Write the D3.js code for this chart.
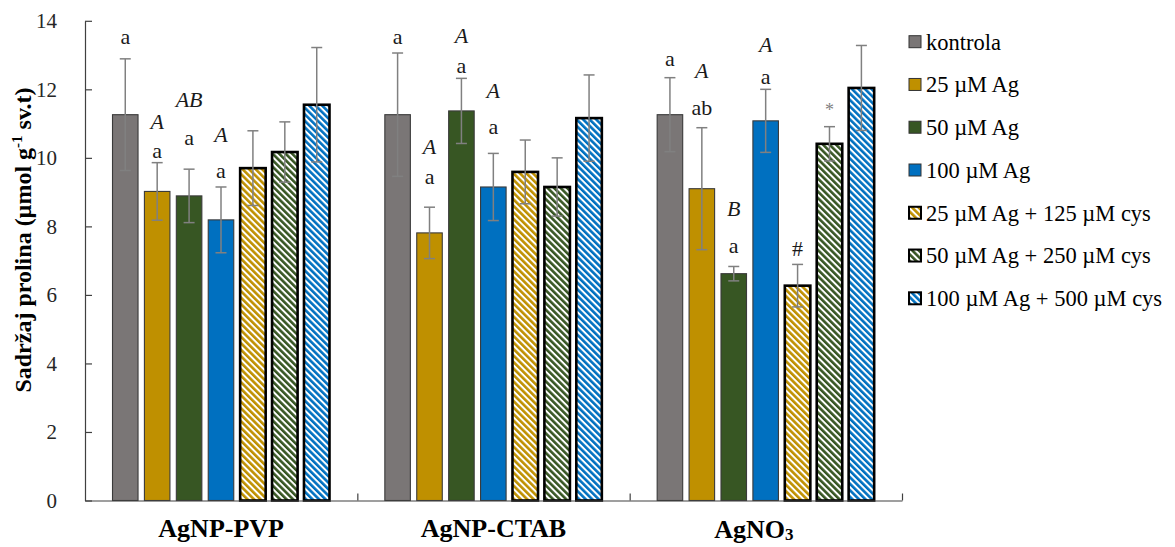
<!DOCTYPE html>
<html>
<head>
<meta charset="utf-8">
<script src="https://cdn.jsdelivr.net/npm/d3@7"></script>
<style>
  html, body { margin: 0; padding: 0; background: #fff; }
  svg { display: block; }
  text { font-family: "Liberation Serif", "Times New Roman", serif; }
</style>
</head>
<body>
<svg id="chart" width="1175" height="547"></svg>
<script>
// ---------- data ----------
const groups = ["AgNP-PVP", "AgNP-CTAB", "AgNO3"];
const seriesNames = ["kontrola", "25 µM Ag", "50 µM Ag", "100 µM Ag",
  "25 µM Ag + 125 µM cys", "50 µM Ag + 250 µM cys", "100 µM Ag + 500 µM cys"];
const seriesKeys = ["k", "a25", "a50", "a100", "c25", "c50", "c100"];

// means per group (PVP, CTAB, AgNO3)
const kontrola = [11.26, 11.26, 11.26];
const ag25     = [9.02, 7.81, 9.10];
const ag50     = [8.89, 11.37, 6.62];
const ag100    = [8.19, 9.15, 11.08];
const ag25cys  = [9.70, 9.59, 6.27];
const ag50cys  = [10.17, 9.15, 10.41];
const ag100cys = [11.55, 11.16, 12.04];

// standard deviations
const kontrolaSd = [1.63, 1.80, 1.08];
const ag25Sd     = [0.84, 0.75, 1.78];
const ag50Sd     = [0.78, 0.95, 0.21];
const ag100Sd    = [0.96, 0.98, 0.92];
const ag25cysSd  = [1.09, 0.93, 0.62];
const ag50cysSd  = [0.88, 0.85, 0.50];
const ag100cysSd = [1.67, 1.26, 1.24];

const yTicks = [0, 2, 4, 6, 8, 10, 12, 14];

// significance labels: [group index, series index, text, italic, anchor value]
const sigLabels = [
  [0, 0, "a", false, 13.56],
  [0, 1, "A", true, 11.06], [0, 1, "a", false, 10.23],
  [0, 2, "AB", true, 11.71], [0, 2, "a", false, 10.61],
  [0, 3, "A", true, 10.70], [0, 3, "a", false, 9.65],
  [1, 0, "a", false, 13.56],
  [1, 1, "A", true, 10.33], [1, 1, "a", false, 9.47],
  [1, 2, "A", true, 13.59], [1, 2, "a", false, 12.71],
  [1, 3, "A", true, 11.96], [1, 3, "a", false, 10.93],
  [2, 0, "a", false, 12.91],
  [2, 1, "A", true, 12.55], [2, 1, "ab", false, 11.48],
  [2, 2, "B", true, 8.53], [2, 2, "a", false, 7.46],
  [2, 3, "A", true, 13.30], [2, 3, "a", false, 12.39],
  [2, 4, "#", false, 7.37],
  [2, 5, "*", false, 11.42]
];

// ---------- styling ----------
const baseColors = ["#7a7676", "#bf9000", "#375623", "#0070c0", "#bf9000", "#375623", "#0070c0"];
const hatched = [false, false, false, false, true, true, true];

const meansAll = [kontrola, ag25, ag50, ag100, ag25cys, ag50cys, ag100cys];
const sdAll = [kontrolaSd, ag25Sd, ag50Sd, ag100Sd, ag25cysSd, ag50cysSd, ag100cysSd];

const svg = d3.select("#chart");
const defs = svg.append("defs");
[1, 2, 3].forEach(i => {
  const p = defs.append("pattern")
    .attr("id", "hatch" + i)
    .attr("patternUnits", "userSpaceOnUse")
    .attr("width", 4.6).attr("height", 4.6)
    .attr("patternTransform", "rotate(-45)");
  p.append("rect").attr("width", 4.6).attr("height", 4.6).attr("fill", "#fff");
  p.append("rect").attr("width", 2.6).attr("height", 4.6).attr("fill", baseColors[i]);
});
const fillFor = si => hatched[si] ? `url(#hatch${si - 3})` : baseColors[si];

// ---------- scales ----------
const plotLeft = 85, plotRight = 902, yBottom = 500.5, yTop = 20.8;
const y = d3.scaleLinear().domain([0, 14]).range([yBottom, yTop]);
const x0 = d3.scaleBand().domain(groups).range([plotLeft, plotRight]).padding(0);
const x1 = d3.scaleBand().domain(seriesKeys).range([27.5, 244.5]).paddingInner(0.2).paddingOuter(0);

// ---------- bars ----------
const rows = [];
groups.forEach((g, gi) => {
  seriesKeys.forEach((k, si) => {
    rows.push({ g, gi, k, si, v: meansAll[si][gi], sd: sdAll[si][gi] });
  });
});

const gBars = svg.append("g");
gBars.selectAll("rect.bar").data(rows).join("rect")
  .attr("class", "bar")
  .attr("x", d => x0(d.g) + x1(d.k))
  .attr("y", d => y(d.v))
  .attr("width", x1.bandwidth())
  .attr("height", d => y(0) - y(d.v))
  .attr("fill", d => fillFor(d.si))
  .attr("stroke", d => hatched[d.si] ? "#000" : "#3a3a3a")
  .attr("stroke-width", d => hatched[d.si] ? 2.6 : 1.1);

// ---------- error bars ----------
const gErr = svg.append("g").attr("stroke", "#808080").attr("stroke-width", 1.5);
const cx = d => x0(d.g) + x1(d.k) + x1.bandwidth() / 2;
gErr.selectAll("line.v").data(rows).join("line")
  .attr("x1", cx).attr("x2", cx)
  .attr("y1", d => y(d.v + d.sd)).attr("y2", d => y(d.v - d.sd));
gErr.selectAll("line.t").data(rows).join("line")
  .attr("x1", d => cx(d) - 5.5).attr("x2", d => cx(d) + 5.5)
  .attr("y1", d => y(d.v + d.sd)).attr("y2", d => y(d.v + d.sd));
gErr.selectAll("line.b").data(rows).join("line")
  .attr("x1", d => cx(d) - 5.5).attr("x2", d => cx(d) + 5.5)
  .attr("y1", d => y(d.v - d.sd)).attr("y2", d => y(d.v - d.sd));

// ---------- axes ----------
const yAxis = d3.axisLeft(y).tickValues(yTicks).tickSizeInner(-7).tickSizeOuter(0).tickPadding(28);
const gy = svg.append("g").attr("transform", `translate(${plotLeft},0)`).call(yAxis);
gy.select(".domain").attr("stroke", "#404040").attr("stroke-width", 1.2);
gy.selectAll(".tick line").attr("stroke", "#404040").attr("stroke-width", 1.2);
gy.selectAll(".tick text").attr("font-size", 21).attr("fill", "#262626")
  .attr("font-family", "Liberation Serif");

const xLine = d3.scaleLinear().domain([0, groups.length]).range([plotLeft, plotRight]);
const xAxis = d3.axisBottom(xLine).tickValues([1, 2, 3]).tickSizeInner(-7).tickSizeOuter(0).tickFormat("");
const gx = svg.append("g").attr("transform", `translate(0,${y(0)})`).call(xAxis);
gx.select(".domain").attr("stroke", "#404040").attr("stroke-width", 1.2);
gx.selectAll(".tick line").attr("stroke", "#404040").attr("stroke-width", 1.2);

// category labels
const catG = svg.append("g").attr("font-weight", "bold").attr("font-size", 26).attr("fill", "#000");
groups.forEach((g, gi) => {
  const t = catG.append("text")
    .attr("x", x0(g) + x0.bandwidth() / 2 - (gi === 2 ? 12 : 0))
    .attr("y", gi === 2 ? 538 : 537)
    .attr("text-anchor", "middle");
  if (g === "AgNO3") {
    t.append("tspan").text("AgNO");
    t.append("tspan").text("3").attr("font-size", 17).attr("dy", 2);
  } else {
    t.text(g);
  }
});

// y axis title
const yt = svg.append("text")
  .attr("transform", `translate(31,${240}) rotate(-90)`)
  .attr("text-anchor", "middle")
  .attr("font-weight", "bold").attr("font-size", 24).attr("fill", "#000");
yt.append("tspan").text("Sadržaj prolina (µmol g");
yt.append("tspan").text("-1").attr("font-size", 15).attr("dy", -9);
yt.append("tspan").text(" sv.t)").attr("dy", 9);

// significance letters
const gLab = svg.append("g").attr("font-size", 22).attr("text-anchor", "middle");
gLab.selectAll("text").data(sigLabels).join("text")
  .attr("x", d => x0(groups[d[0]]) + x1(seriesKeys[d[1]]) + x1.bandwidth() / 2)
  .attr("y", d => y(d[4]))
  .attr("dy", "0.35em")
  .attr("font-style", d => d[3] ? "italic" : "normal")
  .attr("fill", d => d[2] === "*" ? "#808080" : "#1a1a1a")
  .attr("font-size", d => d[2] === "*" ? 18 : 22)
  .text(d => d[2]);

// ---------- legend ----------
const legendY = d3.scalePoint().domain(seriesNames).range([41.7, 298.3]);
const lg = svg.append("g");
const li = lg.selectAll("g").data(seriesNames).join("g")
  .attr("transform", d => `translate(909,${legendY(d)})`);
li.append("rect")
  .attr("x", 0).attr("y", -6).attr("width", 12).attr("height", 12)
  .attr("fill", (d, i) => fillFor(i))
  .attr("stroke", (d, i) => hatched[i] ? "#000" : "#333")
  .attr("stroke-width", (d, i) => hatched[i] ? 2 : 1);
li.append("text")
  .attr("x", 17).attr("y", 0).attr("dy", "0.35em")
  .attr("font-size", 22.5).attr("fill", "#000")
  .text(d => d);
</script>
</body>
</html>
